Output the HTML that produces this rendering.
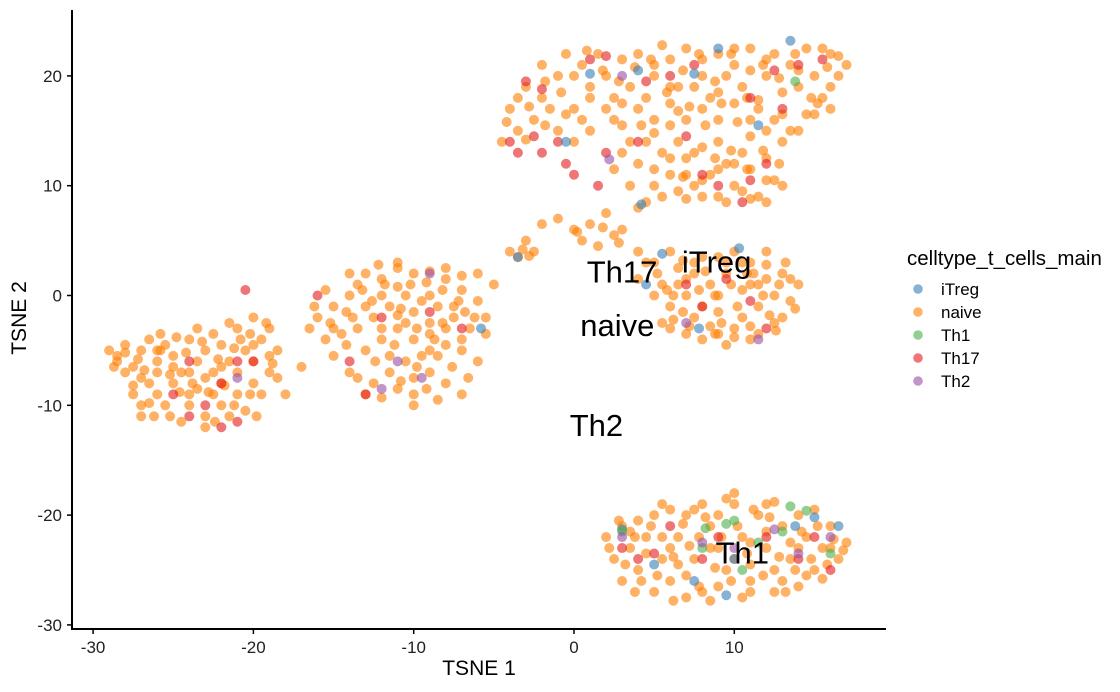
<!DOCTYPE html>
<html><head><meta charset="utf-8"><style>
body{margin:0;background:#fff;}
svg{display:block;font-family:"Liberation Sans",Arial,sans-serif;}
</style></head><body>
<svg id="chart" width="1120" height="692" viewBox="0 0 1120 692">
<g id="points"></g>
<g id="axes"></g>
<g id="labels"></g>
<g id="legend"></g>
</svg>
<script>
const xTicks=[-30,-20,-10,0,10];
const yTicks=[20,10,0,-10,-20,-30];
const seriesNames=["iTreg","naive","Th1","Th17","Th2"];
const seriesColors=["#377EB8","#FF7F00","#4DAF4A","#E41A1C","#984EA3"];
const naiveXY=[
-29,-5,-28.5,-6,-28,-5.2,-27.5,-6.5,-27,-5,-26.5,-4,-26,-6,-25.5,-4.5,-25,-5.5,-24.5,-7,-24,-4,-23.5,-6,-23,-5,-22.5,-7,-22,-4.5,-21.5,-6,-21,-3,-20.5,-5,-20,-2,-19.5,-4,-19,-3,-18.5,-5,-18,-9,-19,-7,-20,-8,-21,-9,-22,-10,-23,-11,-24,-9,-25,-8,-26,-9,-27,-10,-26.5,-8,-25.5,-10,-24.5,-11.5,-23.5,-8.5,-22.5,-9,-21.5,-11,-20.5,-10.5,-19.5,-9,-20,-6,-21,-7,-22,-8,-23,-7.5,-24,-7,-25,-6.5,-26,-7,-27,-7.5,-28,-7,-28.5,-5.5,-22.5,-3.5,-20.8,-4,-24.8,-3.8,-23,-12,-21.8,-8.2,-19,-5.5,-18.5,-7.5,-27.5,-9,-26.2,-11,-25.8,-5,
-28,-4.5,-27.2,-5.8,-26.8,-6.8,-25.2,-7.2,-24.2,-5.2,-23.2,-4.2,-22.2,-5.8,-21.2,-4.8,-20.2,-3.5,-19.2,-2.5,-23.8,-8,-22.8,-8.8,-21.2,-10,-20.2,-9,-25.2,-11,-24,-10,-26.5,-9.8,-27.5,-8.2,-28.7,-6.5,-23.5,-3,-20,-4.5,-18.8,-6.2,-22,-6.5,-26,-5,-24.6,-8.8,-22.4,-11.5,-19.8,-11,-21.5,-2.5,-25.8,-3.5,-27,-11,
-16,-2,-15,-1,-14,0,-13.5,1,-13,2,-12,1.5,-11,2.5,-10,2,-9,2.2,-8,1.5,-7,0.5,-6,-0.5,-5.5,-2,-6.5,-3,-7.5,-2,-8.5,-1,-9.5,-0.5,-10.5,0,-11.5,-1,-12.5,-2,-13.5,-3,-14.5,-3.5,-15.5,-4,-13,-5,-12,-4,-11,-3,-10,-4,-9,-3.5,-8,-4.5,-7,-5,-6,-6,-9.5,-5.5,-10.5,-6,-11.5,-7,-12.5,-8,-13,-9,-11,-8.5,-10,-7.5,-9,-7,-8,-8,-7,-9,-8.5,-9.5,-10,-9,-11.5,-5.5,-14,-7,-15,-5.5,-16.5,-3,-13,-1,-9,0,-7.5,-1,-5,1,-6,2,-12,0,-10.5,-2.5,-8.2,-2.5,-15.5,0.5,-11,3,-17,-6.5,-14,2,-10,-1.5,-9,-2.5,-11,-1.8,
-15.2,-2.5,-14.2,-1.5,-13.2,0.5,-12.2,2.8,-10.2,1,-9.2,1.2,-8.2,0.5,-7.2,-0.5,-6.2,-2,-5.5,-3.5,-7,-4,-8.5,-5.5,-9.8,-6.5,-11.2,-4.5,-12.4,-6,-13.5,-7.5,-14.2,-4.5,-12,-3,-10.8,-1.2,-9.8,-3,-8.7,-4,-7.6,-6.5,-6.6,-7.5,-9.2,-8.5,-10.8,-7.8,-12,-9.3,-11.8,1,-8,2.5,-7,1.8,-6.8,-1.5,-13.8,-2,-15,-3,-16.2,-1,-10,-10,-9,-5,-8,-3,-11,0.8,-12.6,-0.5,
-3,19,-2,18,-1,20,-0.5,22,0.5,21,1.5,22,1,19,2,20,3,21.5,4,22,3.5,19,4.5,18,5,20,6,21.5,6.5,19,7,22.5,8,20,8.5,18,9,22,10,21,10.5,19,11,22.5,11.5,17,12,20,12.5,22,13,18.5,13.5,21,14,19,14.5,22.5,15,20,15.5,18,16,22,16.5,20,17,21,-4,17,-3.5,15,-4.5,14,-2.5,16,-1.5,17,-1,15,0,14,0.5,16,2,17,3,15.5,4,17,5,16,6,17.5,7,16,8,17,9,16,10,17.5,11,16,12,15,13,16.5,14,15,15,16.5,16,17,1,18,-2,21,9.5,20,5.5,22.8,2.5,18,7.5,19,0,20,5,21,6,19,8,21.5,10,22.5,12,21.5,14,20.5,15.5,22.5,16,19,9,18.5,11,20.5,3,17.5,
-3.5,18,-2.8,17.2,-1.8,19.5,-0.8,18.5,0,17,0.8,22.3,1.8,20.5,2.8,19.5,3.8,20.8,4.8,21.5,5.8,18.5,6.8,20.5,7.8,22,8.8,19.5,9.8,22,10.8,18,11.8,21,12.8,19.8,13.8,22,14.8,18,15.8,20.8,16.5,21.8,-4.2,15.8,-3,14.2,-1.8,15.5,-0.5,16.5,1,15,2.5,16,3.5,14,5,14.8,6,15.5,7.2,17.2,8.2,15.5,9.2,17.5,10.2,15.8,11.5,17.8,12.5,16,13.5,15,14.5,16.5,15.2,17.5,4.2,15.5,6.5,16.8,
3,13,4,12,4.5,14,5.5,13,6,11,6.5,14,7,12.5,7.5,10,8,13.5,8.5,11,9,14,9.5,12,10,10,10.5,13,11,11.5,11.5,9,12,12.5,12.5,10.5,13,14,8,9,9.5,8.5,10.5,9.5,6.5,9.5,5,10,11,14.5,12,8.5,4.5,8.5,7,11,9,11.5,
2.5,11.5,3.5,10,5.5,9,6,12.5,7.5,13,8.8,12.5,9.8,13.2,10.8,11.5,11.8,13.2,12.8,12,13,10,12,10.5,11,8.8,9,9,7,8.8,8,10.5,10,12,6.8,10.8,4,8,5,11.5,
-4,4,-3,5,-2,6.5,-1,7,0,6,0.5,5,1,6.5,2,7.5,2.5,5.5,3,6,-3.5,3.5,-2.5,4,1.5,4.5,4,4,4,1.5,4.5,3,5,0,1.8,6.2,-3.2,4.2,-2.8,3.6,0.2,5.8,2.8,4.8,
5,3,5.5,1,6,-1,6.5,2.5,7,0,7.5,-2,8,3.5,8.5,1,9,-1.5,9.5,2,10,-3,10.5,0.5,11,3,11.5,-1,12,1.5,12.5,-2.5,13,2,13.5,-0.5,14,1,6,-3,7,-3.5,8,-4,9,-3.5,10.5,-2,11.5,-3.5,12,4,10,4,9,0,8,-1,7,1.5,6,4,13,-2,11,-4,5.5,-2.5,12.5,0,9.5,-4.5,6.8,3.2,10.8,2,8.5,-2.8,9.5,3,11.5,1,7.5,2,
5.2,2,6.2,0,6.8,-1.5,7.5,3,8.2,2.2,8.8,0,9.2,-2.5,9.8,1,10.2,-1,11.2,2,11.8,0,12.2,-1.8,12.8,1,13.2,3,13.8,-1.2,6.2,-2.2,7.2,-2.8,8.8,-3.5,10,-3.8,11,-2.8,12.6,-3.2,13.5,1.5,5.8,0.5,7.8,0.5,10.5,3,9,3.5,12,2.8,6.5,1,11,1,
2,-22,2.5,-24,3,-21,3.5,-23,4,-25,4.5,-22,5,-20,5.5,-24,6,-26,6.5,-22,7,-20,7.5,-24,8,-27,8.5,-21,9,-23,9.5,-25,10,-19,10.5,-22,11,-26,11.5,-20,12,-23,12.5,-25,13,-21,13.5,-24,14,-20,14.5,-22,15,-25,15.5,-23,16,-21,16.5,-24,17,-22.5,3,-26,5,-27,7,-27.5,9,-26.5,11,-27,13,-26,6,-19.5,8,-19,12,-19,10,-18,4,-20.5,15,-19.5,6.5,-24.5,8.5,-23,10,-24,12,-21.5,14,-23,4.5,-23.5,7.8,-22,11,-24.5,13.5,-22.5,3.5,-21.5,5.5,-22,7,-25.5,9,-20,11,-22.5,12.5,-27,14.5,-25.5,16,-23,6,-23,
2.2,-23,3.2,-24.5,3.8,-22,4.2,-26,4.8,-21,5.2,-25.5,6.2,-23.8,6.8,-20.8,7.2,-22.8,7.8,-26.5,8.2,-20.2,8.8,-24.8,9.2,-22,9.8,-26,10.2,-21,10.8,-23.5,11.2,-19.5,11.8,-25.5,12.2,-20.2,12.8,-23.8,13.2,-27,13.8,-25,14.2,-21.5,14.8,-24,15.2,-21,15.8,-24.5,16.2,-22.2,16.8,-23.2,5.5,-19,9.5,-18.5,3.8,-27,6.2,-27.8,8.5,-27.8,10.5,-27.5,14,-26.5,15.5,-25.8,2.8,-20.5,7.5,-19.5,12.5,-18.8
];
const th17XY=[-24,-6,-22,-8,-21,-6,-20,-6,-23,-10,-21,-11.5,-24,-11,-20.5,0.5,-22,-12,-25,-9,-16,0,-14,-6,-13,-9,-9,-1.5,-7,-3,-12,-2,
-4,14,-3.5,13,-2,13,-1,14,-0.5,12,0,11,-2.5,14.5,1.5,10,-3,19.5,-2,18.8,1,21.5,2,13,4,14,7,14.5,8,11,9,10,10.5,8.5,11,10.5,12,12,14,21,15.5,21.5,12.5,20.5,13,17,11,18,6,20,2,21.8,7.5,21,4.5,19.5,
7,1,8,-1,9.5,1.5,11,-0.5,12,-3,3,-23,5,-23.5,6,-21,8,-24,9,-22,12,-22,14,-24,15,-22,16,-25,4,-24];
const th2XY=[-9,2,-21,-7.5,-9.5,-7.5,-11,-6,-12,-8.5,2.2,12.4,3,20,11.5,-4,7,-2.5,3,-22,8,-22.5,14,-23.5,16,-22,10,-23,12.5,-21.3];
const itregXY=[-5.8,-3,-3.5,3.5,4.5,1,4.2,8.3,1,20.2,4,20.5,7.5,20.2,9,22.5,13.5,23.2,11.5,15.5,5.5,3.8,10.3,4.3,-0.5,14,7.8,-3,10,-24,5,-24.5,9.5,-27.3,7.5,-26,15,-20.2,16.5,-21,13.8,-21,3,-21.3];
const th1XY=[13.8,19.5,10,-20.5,9.5,-20.8,13.5,-19.2,14.5,-19.6,11.5,-22.5,8,-23,10.5,-25,3,-21.5,16,-23.5,8.2,-21.2,13,-21.5];
const clusterLabels=["Th17","iTreg","naive","Th2","Th1"];
const clusterLabelX=[3,8.9,2.7,1.4,10.5];
const clusterLabelY=[2.2,3.1,-2.7,-11.8,-23.4];

const NS="http://www.w3.org/2000/svg";
function sx(v){return 574+(v)*16.03;}
function sy(v){return 295.5-(v)*10.98;}
function mk(tag,attrs,parent){const e=document.createElementNS(NS,tag);for(const k in attrs)e.setAttribute(k,attrs[k]);parent.appendChild(e);return e;}
const pts=document.getElementById('points');
function drawSeries(arr,ci,name){
  for(let i=0;i<arr.length;i+=2){
    const c=mk('circle',{cx:sx(arr[i]),cy:sy(arr[i+1]),r:5,fill:seriesColors[ci],'fill-opacity':0.6},pts);
    
    
  }
}
drawSeries(naiveXY,1,'naive');
drawSeries(th17XY,3,'th17');
drawSeries(itregXY,0,'itreg');
drawSeries(th1XY,2,'th1');
drawSeries(th2XY,4,'th2');

const ax=document.getElementById('axes');
let l=mk('line',{x1:72,y1:10,x2:72,y2:629,stroke:'#000','stroke-width':2},ax);


l=mk('line',{x1:71,y1:629,x2:886,y2:629,stroke:'#000','stroke-width':2},ax);


xTicks.forEach(v=>{
  const t=mk('line',{x1:sx(v),y1:629,x2:sx(v),y2:634,stroke:'#000','stroke-width':1.5},ax);
  
  
  const tx=mk('text',{x:sx(v),y:653,'text-anchor':'middle','font-size':17,fill:'#222'},ax);
  tx.textContent=v;
  
  
});
yTicks.forEach(v=>{
  const t=mk('line',{x1:67,y1:sy(v),x2:72,y2:sy(v),stroke:'#000','stroke-width':1.5},ax);
  
  
  const tx=mk('text',{x:62,y:sy(v)+6,'text-anchor':'end','font-size':17,fill:'#222'},ax);
  tx.textContent=v;
  
  
});
let tt=mk('text',{x:479,y:675,'text-anchor':'middle','font-size':21,fill:'#000'},ax);
tt.textContent='TSNE 1';


tt=mk('text',{x:26,y:318,'text-anchor':'middle','font-size':21,fill:'#000',transform:'rotate(-90 26 318)'},ax);
tt.textContent='TSNE 2';



const lb=document.getElementById('labels');
clusterLabels.forEach((s,i)=>{
  const t=mk('text',{x:sx(clusterLabelX[i]),y:sy(clusterLabelY[i])+11,'text-anchor':'middle','font-size':31,fill:'#000'},lb);
  t.textContent=s;
  
  
});

const lg=document.getElementById('legend');
let lt=mk('text',{x:907,y:265,'font-size':20.5,fill:'#000'},lg);
lt.textContent='celltype_t_cells_main';


seriesNames.forEach((s,i)=>{
  const y=289+i*23;
  const c=mk('circle',{cx:918,cy:y,r:4.8,fill:seriesColors[i],'fill-opacity':0.6},lg);
  
  
  const t=mk('text',{x:941,y:y+6,'font-size':17,fill:'#000'},lg);
  t.textContent=s;
  
  
});
</script>
</body></html>
